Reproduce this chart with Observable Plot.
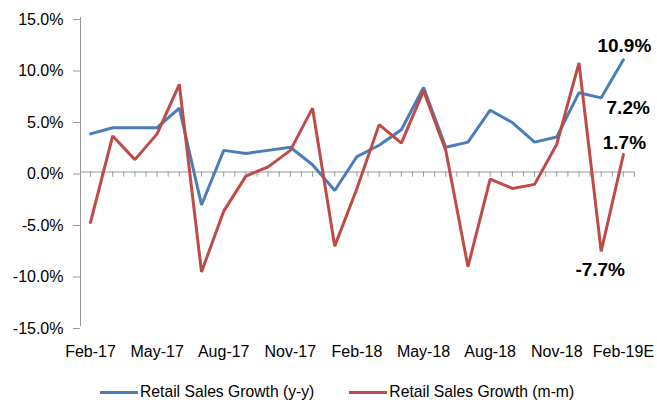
<!DOCTYPE html>
<html>
<head>
<meta charset="utf-8">
<script src="https://cdn.jsdelivr.net/npm/d3@7"></script>
<script src="https://cdn.jsdelivr.net/npm/@observablehq/plot@0.6"></script>
<style>
  html, body { margin: 0; padding: 0; background: #fff; }
  body { width: 657px; height: 406px; overflow: hidden; position: relative; font-family: "Liberation Sans", Arial, sans-serif; }
  #legend { position: absolute; left: 100px; top: 382px; height: 20px; display: flex; align-items: center; font-size: 15.7px; color: #000; white-space: nowrap; }
  .item { display: flex; align-items: center; }
  .sw { width: 38px; height: 3px; margin-right: 2px; margin-top: 1px; }
  .gap { width: 35px; }
</style>
</head>
<body>
<div id="chart"></div>
<div id="legend"></div>
<script>
const months = ["Feb-17","Mar-17","Apr-17","May-17","Jun-17","Jul-17","Aug-17","Sep-17","Oct-17","Nov-17","Dec-17","Jan-18",
                "Feb-18","Mar-18","Apr-18","May-18","Jun-18","Jul-18","Aug-18","Sep-18","Oct-18","Nov-18","Dec-18","Jan-19","Feb-19E"];
const yoy = [3.7,4.3,4.3,4.3,6.2,-3.2,2.1,1.8,2.1,2.4,0.7,-1.8,1.5,2.6,4.1,8.2,2.4,2.9,6.0,4.8,2.9,3.4,7.7,7.2,10.9];
const mom = [-4.9,3.5,1.2,3.7,8.5,-9.7,-3.8,-0.4,0.5,2.1,6.2,-7.2,-1.6,4.6,2.8,7.9,2.1,-9.2,-0.7,-1.6,-1.2,2.7,10.6,-7.7,1.7];
const seriesNames = ["Retail Sales Growth (y-y)", "Retail Sales Growth (m-m)"];
const colors = ["#4A7EBB", "#BE4B48"];
const yTicks = [-15,-10,-5,0,5,10,15];
const xLabelIdx = [0,3,6,9,12,15,18,21,24];
// annotated points: [series, month index]
const notes = [
  {s: 0, i: 24, dx: 1, dy: -14},
  {s: 0, i: 23, dx: 27, dy: 10},
  {s: 1, i: 24, dx: 1, dy: -12},
  {s: 1, i: 23, dx: -1, dy: 19}
];

const rows = [];
months.forEach((m, i) => rows.push({i, v: yoy[i], s: seriesNames[0]}));
months.forEach((m, i) => rows.push({i, v: mom[i], s: seriesNames[1]}));
const vals = [yoy, mom];
const noteRows = notes.map(n => ({i: n.i, v: vals[n.s][n.i], dx: n.dx, dy: n.dy}));
const halfTicks = d3.range(0, 24.51, 0.5);

const chart = Plot.plot({
  width: 657,
  height: 368,
  marginLeft: 80,
  marginRight: 23,
  marginTop: 17,
  marginBottom: 42,
  style: {fontFamily: "'Liberation Sans', Arial, sans-serif", fontSize: "16px", color: "#000", background: "#fff"},
  x: {type: "linear", domain: [-0.45, 24.5], axis: null, label: null},
  y: {domain: [-15, 15], axis: null, label: null},
  color: {domain: seriesNames, range: colors},
  marks: [
    Plot.ruleX([-0.45], {y1: -15, y2: 15, stroke: "#999", strokeWidth: 1}),
    Plot.axisY({ticks: yTicks, tickFormat: d => d.toFixed(1) + "%", tickSize: 7, tickPadding: 10, stroke: "#999", fill: "#000", fontSize: 16, dy: 2, label: null}),
    Plot.ruleY([0], {stroke: "#999", strokeWidth: 1}),
    Plot.ruleX(halfTicks, {x: d => d, y1: 0, y2: -0.5, stroke: "#999", strokeWidth: 1}),
    Plot.axisX({ticks: xLabelIdx, tickFormat: i => months[i], tickSize: 0, tickPadding: 19, fontSize: 16, fill: "#000", label: null}),
    Plot.line(rows, {x: "i", y: "v", z: "s", stroke: "s", strokeWidth: 3, strokeLinejoin: "miter"}),
    ...noteRows.map(n => Plot.text([n], {x: "i", y: "v", text: d => d.v.toFixed(1) + "%", dx: n.dx, dy: n.dy, fontSize: 19, fontWeight: "bold", fill: "#000"}))
  ]
});
document.getElementById("chart").appendChild(chart);

const lg = document.getElementById("legend");
seriesNames.forEach((name, k) => {
  if (k > 0) { const g = document.createElement("div"); g.className = "gap"; lg.appendChild(g); }
  const it = document.createElement("div"); it.className = "item";
  const sw = document.createElement("div"); sw.className = "sw"; sw.style.background = colors[k];
  const tx = document.createElement("span"); tx.textContent = name;
  it.appendChild(sw); it.appendChild(tx); lg.appendChild(it);
});
</script>
</body>
</html>
